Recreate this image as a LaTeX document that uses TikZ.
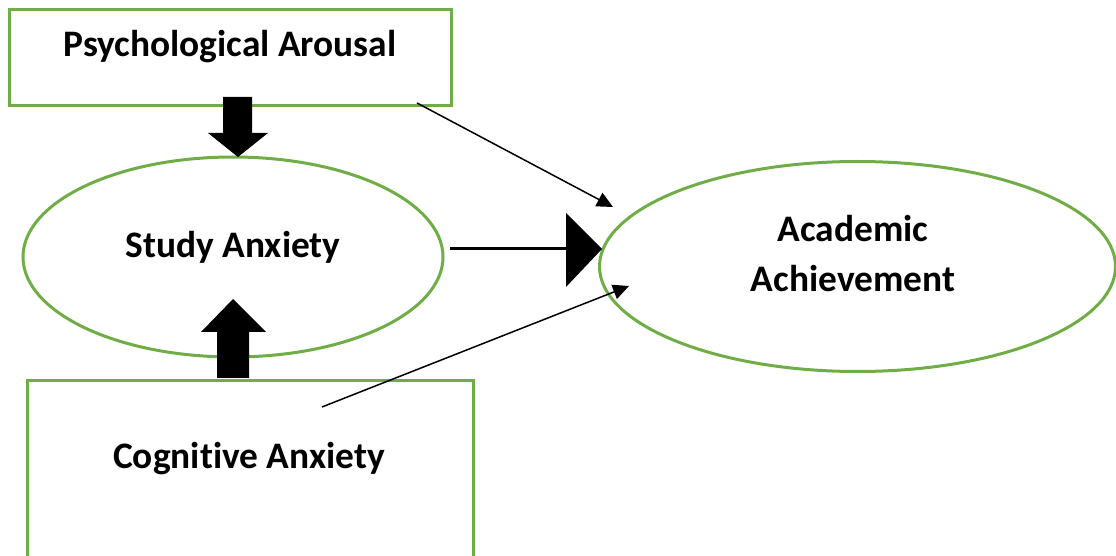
\documentclass[tikz,border=0pt]{standalone}
\usepackage{fontspec}
\setmainfont[Ligatures=NoCommon]{Carlito}
\usetikzlibrary{arrows.meta,shapes.geometric}
\definecolor{offgreen}{HTML}{70AD47}
\begin{document}
\begin{tikzpicture}[x=0.5pt,y=-0.5pt,
  box/.style={draw=offgreen,line width=1.5pt,fill=white,rectangle,inner sep=0pt},
  oval/.style={draw=offgreen,line width=1.5pt,fill=white,ellipse,inner sep=0pt},
  lbl/.style={font=\fontsize{18.7}{25}\selectfont\bfseries,anchor=base,inner sep=0pt},
  thin/.style={line width=0.75pt,-{Triangle[length=8pt,width=7.5pt]}},
  block/.style={fill=black,draw=none}]
\useasboundingbox (0,0) rectangle (1116,556);
% boxes and ovals
\node[box,minimum width=221pt,minimum height=48pt] (pa) at (230.5,58) {};
\node[oval,minimum width=210pt,minimum height=100pt] (sa) at (233,257) {};
\node[oval,minimum width=258pt,minimum height=105pt] (ae) at (857.5,266.5) {};
\begin{scope}
\clip (0,0) rectangle (1116,556);
\node[box,minimum width=223pt,minimum height=100pt,anchor=north] (ca) at (250,379) {};
\end{scope}
% labels
\node[lbl] (tpa) at (230,57) {Psychological Arousal};
\node[lbl] (tsa) at (233,258) {Study Anxiety};
\node[lbl] (tca) at (249,468) {Cognitive Anxiety};
\node[lbl] (tae1) at (853,242) {Academic};
\node[lbl] (tae2) at (853,292) {Achievement};
% block arrows
\fill[block] (223,97) -- (252,97) -- (252,133) -- (268,133) -- (238,157) -- (208,133) -- (223,133) -- cycle;
\fill[block] (217,378) -- (249,378) -- (249,332) -- (266,332) -- (233,299) -- (201,332) -- (217,332) -- cycle;
% horizontal thick arrow
\coordinate (h1) at (450,249);
\coordinate (h2) at (567,249);
\draw[line width=1.5pt] (h1) -- (h2);
\fill[block] (566,213) -- (602,249) -- (566,287) -- cycle;
% thin arrows
\coordinate (a1s) at (417,103);
\coordinate (a1e) at (613,207);
\coordinate (a2s) at (322,407);
\coordinate (a2e) at (629,286);
\draw[thin] (a1s) -- (a1e);
\draw[thin] (a2s) -- (a2e);
\end{tikzpicture}
\end{document}
